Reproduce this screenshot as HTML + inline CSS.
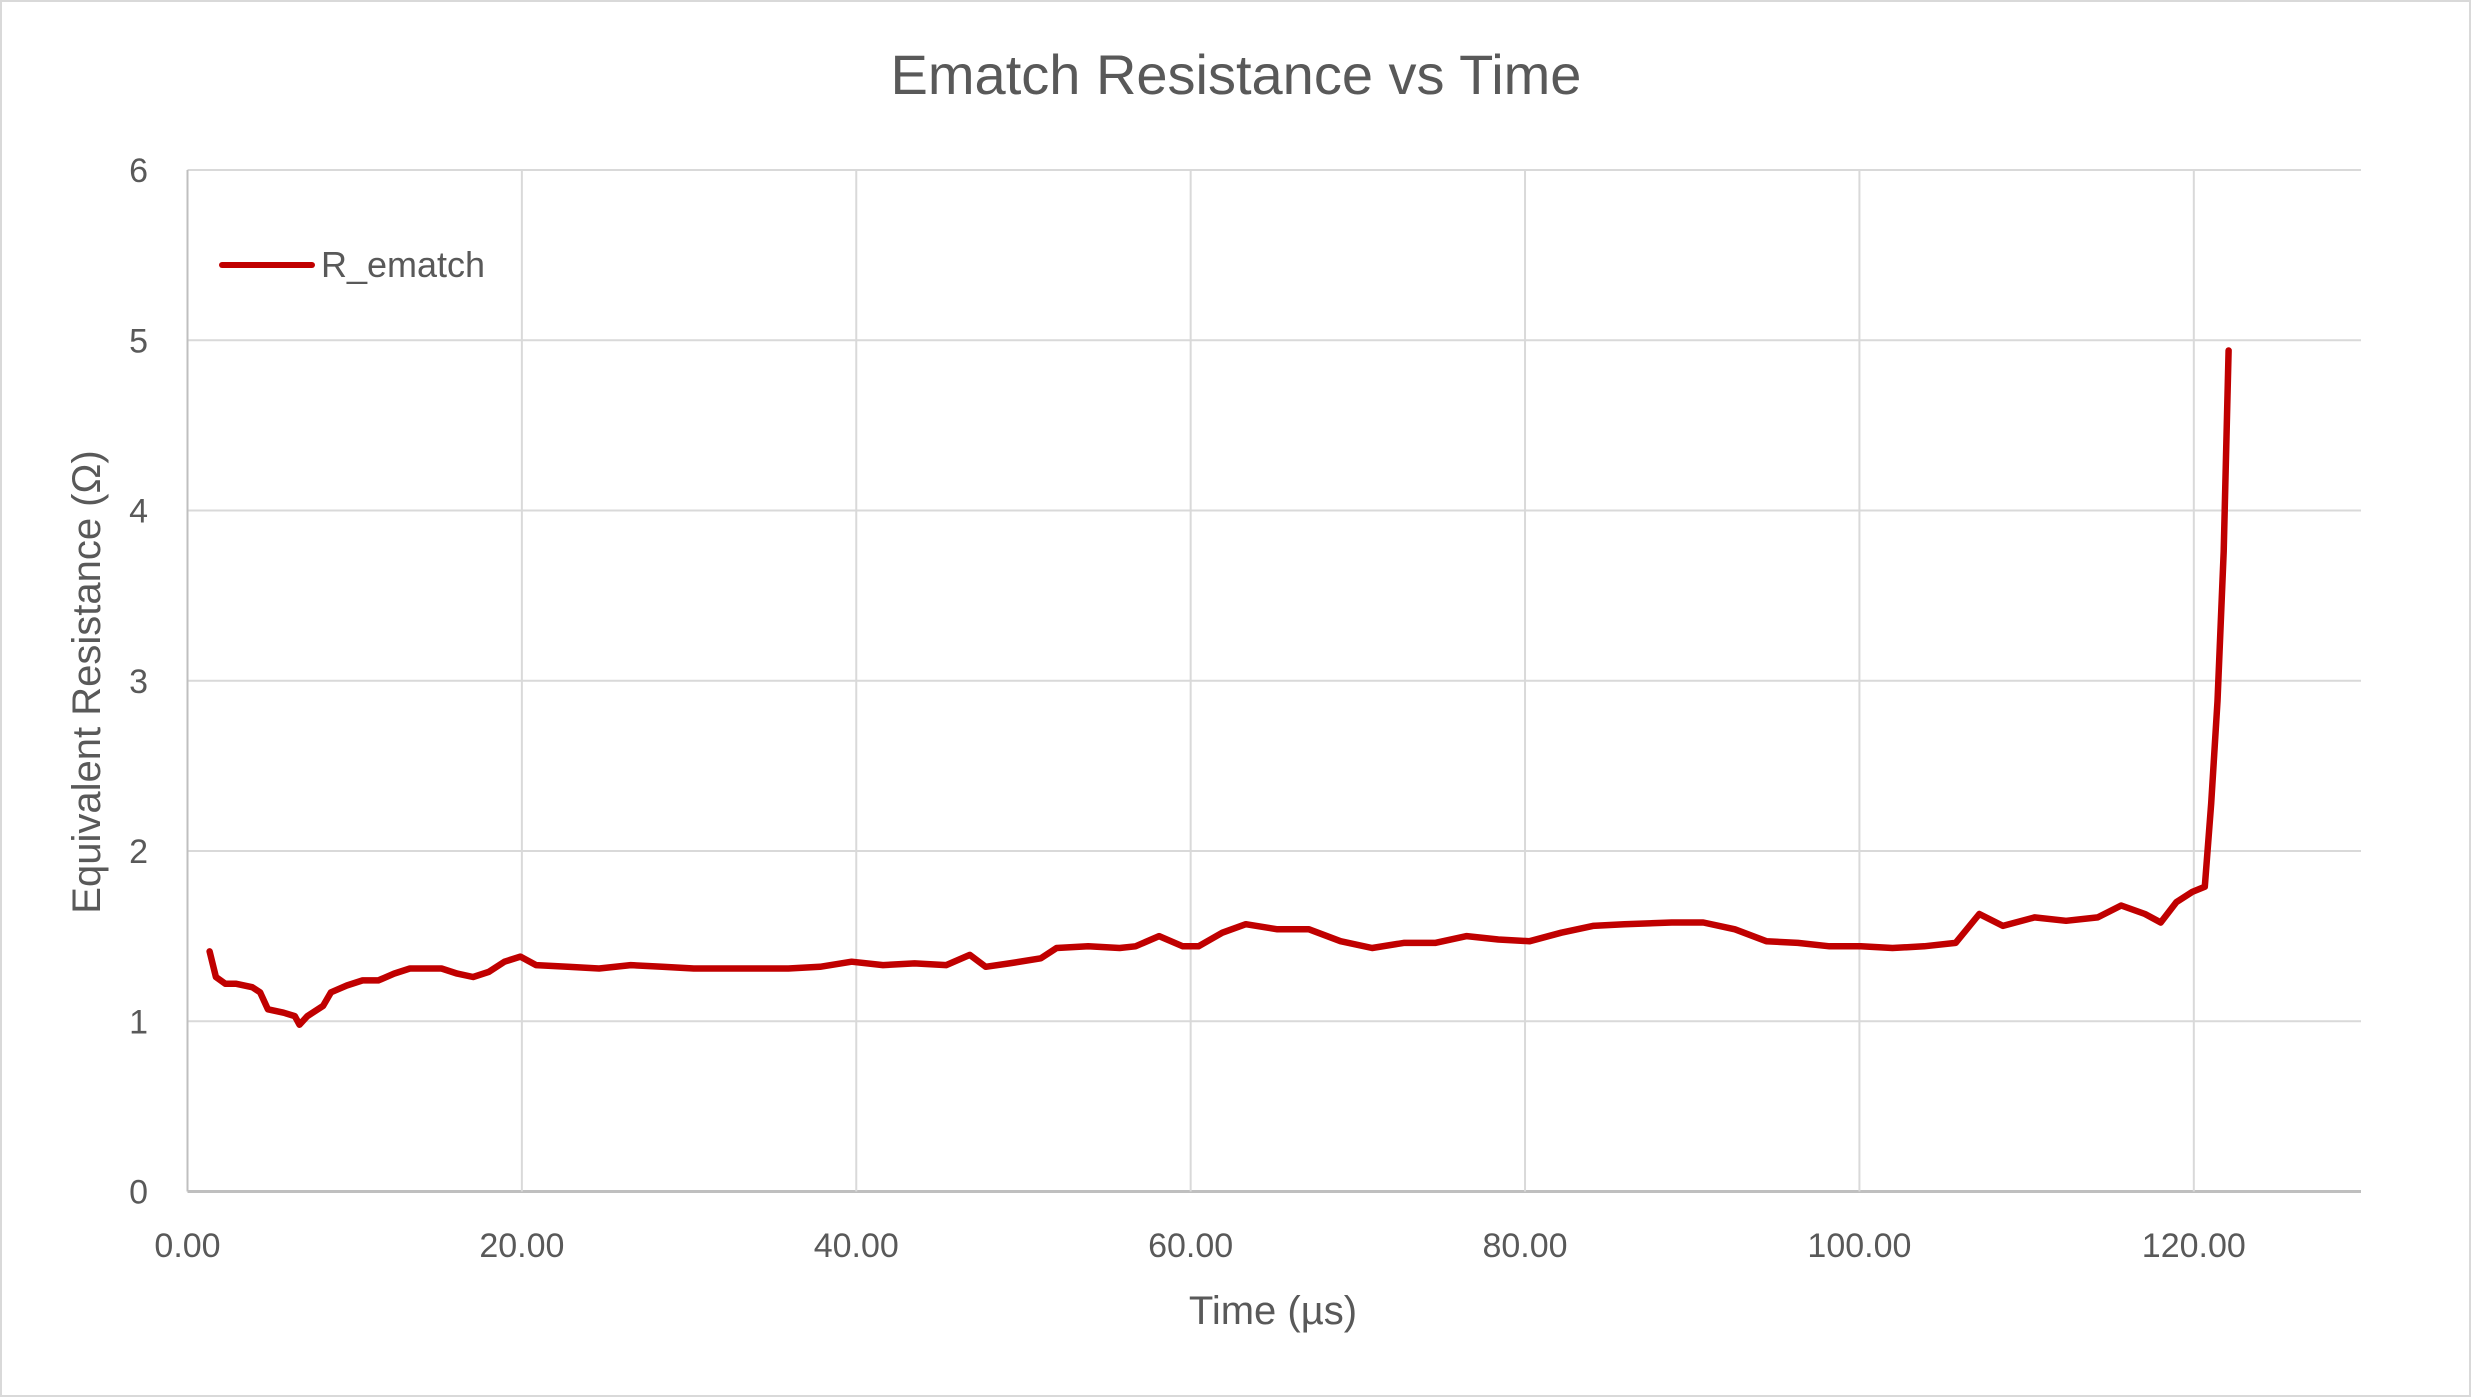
<!DOCTYPE html>
<html><head><meta charset="utf-8"><style>
html,body{margin:0;padding:0;background:#fff;}
svg{display:block;font-family:"Liberation Sans",sans-serif;}
</style></head><body>
<svg id="chart" width="2471" height="1397" viewBox="0 0 2471 1397">
<rect x="1" y="1" width="2469" height="1395" fill="#fff" stroke="#d9d9d9" stroke-width="2"/>
<text x="1236" y="94" text-anchor="middle" font-size="56" fill="#595959">Ematch Resistance vs Time</text>
<g id="grid"></g><g id="ticks"></g>
<text x="1273" y="1324" text-anchor="middle" font-size="40" fill="#595959">Time (µs)</text>
<text transform="translate(100,682) rotate(-90)" text-anchor="middle" font-size="40" fill="#595959">Equivalent Resistance (Ω)</text>
<g id="series"></g>
<g>
<line x1="222" y1="265" x2="312" y2="265" stroke="#c00000" stroke-width="6" stroke-linecap="round"/>
<text x="321" y="277" font-size="36" fill="#595959">R_ematch</text>
</g>
</svg>
<script>
const xTicks=[0,20,40,60,80,100,120];
const xTickLabels=["0.00","20.00","40.00","60.00","80.00","100.00","120.00"];
const yTicks=[0,1,2,3,4,5,6];
const timeUs=[1.32,1.70,2.26,2.92,3.87,4.34,4.81,5.75,6.42,6.70,7.17,8.11,8.58,9.53,10.47,11.42,12.36,13.30,14.25,15.19,16.13,17.08,18.02,18.96,19.91,20.85,22.74,24.62,26.51,28.40,30.28,32.17,34.06,35.94,37.83,39.72,41.60,43.49,45.38,46.79,47.74,49.15,51.04,51.98,53.87,55.75,56.70,58.11,59.53,60.47,61.89,63.30,65.19,67.08,68.96,70.85,72.74,74.62,76.51,78.40,80.28,82.17,84.06,85.94,88.77,90.66,92.55,94.43,96.32,98.21,100.09,101.98,103.87,105.75,107.17,108.58,110.47,112.36,114.25,115.66,117.08,118.02,118.96,119.91,120.66,121.04,121.42,121.79,122.08];
const resistance=[1.41,1.26,1.22,1.22,1.20,1.17,1.07,1.05,1.03,0.98,1.03,1.09,1.17,1.21,1.24,1.24,1.28,1.31,1.31,1.31,1.28,1.26,1.29,1.35,1.38,1.33,1.32,1.31,1.33,1.32,1.31,1.31,1.31,1.31,1.32,1.35,1.33,1.34,1.33,1.39,1.32,1.34,1.37,1.43,1.44,1.43,1.44,1.50,1.44,1.44,1.52,1.57,1.54,1.54,1.47,1.43,1.46,1.46,1.50,1.48,1.47,1.52,1.56,1.57,1.58,1.58,1.54,1.47,1.46,1.44,1.44,1.43,1.44,1.46,1.63,1.56,1.61,1.59,1.61,1.68,1.63,1.58,1.70,1.76,1.79,2.28,2.88,3.76,4.94];
const NS="http://www.w3.org/2000/svg";
const L=187.5,R=2361,T=170,B=1191.5;
function sx(v){return L+(v-0)/130*(R-L);}
function sy(v){return B-(v-0)/6*(B-T);}
const grid=document.getElementById('grid'),ticks=document.getElementById('ticks'),series=document.getElementById('series');
yTicks.forEach(v=>{
 const l=document.createElementNS(NS,'line');
 l.setAttribute('x1',L);l.setAttribute('x2',R);l.setAttribute('y1',sy(v));l.setAttribute('y2',sy(v));
 l.setAttribute('stroke',v===0?'#bfbfbf':'#d9d9d9');l.setAttribute('stroke-width',v===0?3:2);
 
 
 grid.appendChild(l);
 const t=document.createElementNS(NS,'text');
 t.setAttribute('x',148);t.setAttribute('y',sy(v)+12);t.setAttribute('text-anchor','end');
 t.setAttribute('font-size','34');t.setAttribute('fill','#595959');t.textContent=v;
 
 
 ticks.appendChild(t);
});
xTicks.forEach((v,i)=>{
 const l=document.createElementNS(NS,'line');
 l.setAttribute('x1',sx(v));l.setAttribute('x2',sx(v));l.setAttribute('y1',T);l.setAttribute('y2',B);
 l.setAttribute('stroke',v===0?'#bfbfbf':'#d9d9d9');l.setAttribute('stroke-width',2);
 
 
 grid.appendChild(l);
 const t=document.createElementNS(NS,'text');
 t.setAttribute('x',sx(v));t.setAttribute('y',1257);t.setAttribute('text-anchor','middle');
 t.setAttribute('font-size','34');t.setAttribute('fill','#595959');t.textContent=xTickLabels[i];
 
 
 ticks.appendChild(t);
});
const p=document.createElementNS(NS,'polyline');
p.setAttribute('points',timeUs.map((x,i)=>sx(x).toFixed(1)+','+sy(resistance[i]).toFixed(1)).join(' '));
p.setAttribute('fill','none');p.setAttribute('stroke','#c00000');p.setAttribute('stroke-width',6.5);
p.setAttribute('stroke-linejoin','round');p.setAttribute('stroke-linecap','round');


series.appendChild(p);
</script>
</body></html>
